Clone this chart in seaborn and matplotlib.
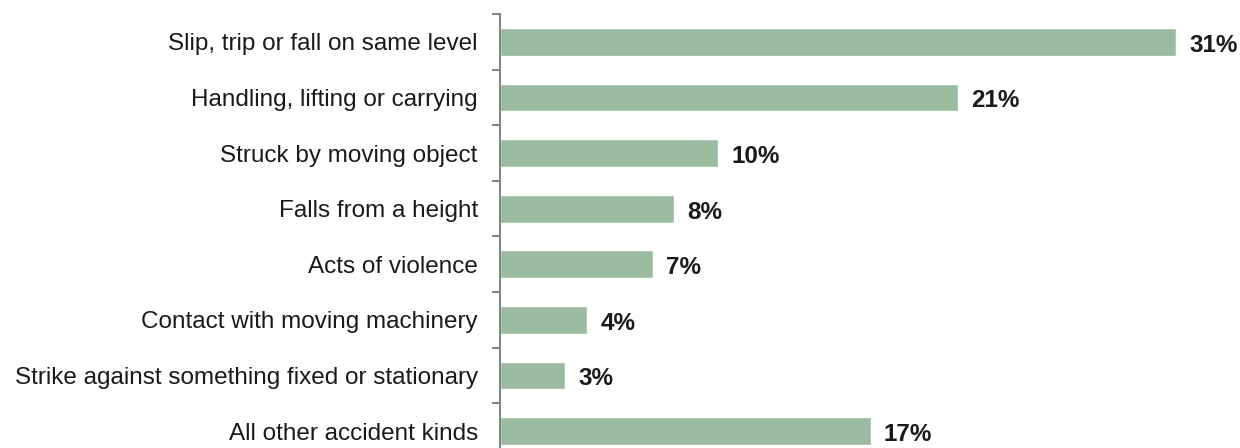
import numpy as np
import pandas as pd
import seaborn as sns
import matplotlib.pyplot as plt

categories = ['Slip, trip or fall on same level', 'Handling, lifting or carrying',
              'Struck by moving object', 'Falls from a height', 'Acts of violence',
              'Contact with moving machinery', 'Strike against something fixed or stationary',
              'All other accident kinds']
values = [31, 21, 10, 8, 7, 4, 3, 17]

df = pd.DataFrame({'kind': categories, 'pct': values})

sns.set_style('white')
plt.rcParams['font.family'] = ['Liberation Sans', 'DejaVu Sans']

fig = plt.figure(figsize=(12.4, 4.48), dpi=100)
ax = fig.add_axes([500/1240, 1 - 459/448, (1176 - 500)/1240, 445/448])

sns.barplot(data=df, x='pct', y='kind', color='#9bbb9e', saturation=1, width=0.5, ax=ax)

ax.set_xlim(0, 31)
ax.set_ylim(7.5, -0.5)
ax.set_xlabel('')
ax.set_ylabel('')
ax.set_xticks([])

# category labels, ticks between categories
ax.tick_params(axis='y', which='major', left=True, length=0, pad=16, labelsize=17.5, labelcolor='#1a1a1a')
ax.set_yticks(np.arange(-0.5, 8, 1), minor=True)
ax.tick_params(axis='y', which='minor', left=True, length=6, width=1.5, color='#868686', direction='out')

for s in ['top', 'right', 'bottom']:
    ax.spines[s].set_visible(False)
ax.spines['left'].set_color('#868686')
ax.spines['left'].set_linewidth(1.5)

for i, v in enumerate(values):
    ax.text(v + 0.6, i + 0.06, f'{v}%', va='center', ha='left', fontsize=17.5,
            fontweight='bold', color='#1a1a1a', clip_on=False)

fig.savefig('out.png', dpi=100)
